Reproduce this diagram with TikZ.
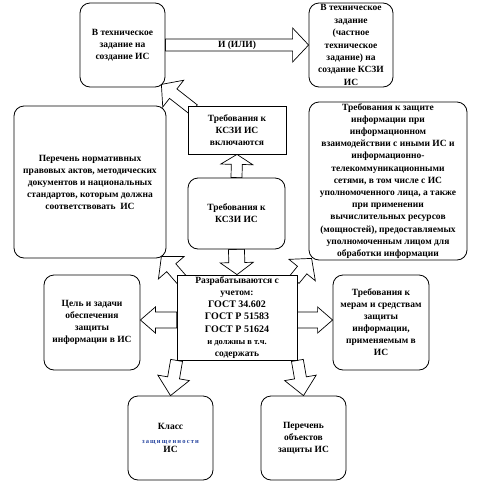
\documentclass[tikz,border=0pt]{standalone}
\usepackage{fontspec}
\setmainfont{Liberation Serif}
\usetikzlibrary{calc,positioning}
\pgfdeclarelayer{back}
\pgfsetlayers{back,main}
\newcommand{\blockarrow}[5]{%
  \coordinate (ah) at ($(#2)!#5!(#1)$);
  \path[barrow] ($(#1)!#3!90:(#2)$) -- ($(ah)!#3!90:(#2)$) -- ($(ah)!#4!90:(#2)$) -- (#2)
    -- ($(ah)!#4!-90:(#2)$) -- ($(ah)!#3!-90:(#2)$) -- ($(#1)!#3!-90:(#2)$) -- cycle;}
\definecolor{klblue}{RGB}{40,70,160}

\begin{document}
\begin{tikzpicture}[x=1pt,y=-1pt,line width=0.8pt]
\tikzstyle{rbox}=[draw=black,rounded corners=10pt,fill=white,align=center,inner sep=1pt,font=\bfseries\fontsize{9.5}{12}\selectfont]
\tikzstyle{sbox}=[rbox,sharp corners]
\tikzstyle{barrow}=[draw=black,fill=white,line width=0.7pt,line join=miter]
\useasboundingbox (0,0) rectangle (482,493);
\node[rbox,minimum width=85,minimum height=84] (ts) at (122.5,45) {В техническое\\задание на\\создание ИС};
\node[rbox,minimum width=84,minimum height=84,font=\bfseries\fontsize{9.5}{12.4}\selectfont] (tz) at (351,45) {В техническое\\задание\\(частное\\техническое\\задание) на\\создание КСЗИ\\ИС};
\node[rbox,minimum width=152,minimum height=152] (npa) at (90,182) {Перечень нормативных\\правовых актов, методических\\документов и национальных\\стандартов, которым должна\\соответствовать\ \ ИС};
\node[sbox,minimum width=98,minimum height=48] (vkl) at (237,130) {Требования к\\КСЗИ ИС\\включаются};
\node[rbox,minimum width=97,minimum height=71] (tksz) at (236.5,213.5) {Требования к\\КСЗИ ИС};
\node[rbox,minimum width=158,minimum height=158,inner sep=0.5pt,font=\bfseries\fontsize{9.5}{12.2}\selectfont] (vz) at (388,181) {Требования к защите\\информации при\\информационном\\взаимодействии с иными ИС и\\информационно-\\телекоммуникационными\\сетями, в том числе с ИС\\уполномоченного лица, а также\\при применении\\вычислительных ресурсов\\(мощностей), предоставляемых\\уполномоченным лицом для\\обработки информации};
\node[sbox,minimum width=120,minimum height=85,font=\bfseries\fontsize{9.5}{12.2}\selectfont] (raz) at (237,317.5) {Разрабатываются с\\учетом:\\{\fontsize{10}{12}\selectfont ГОСТ 34.602}\\{\fontsize{10}{12}\selectfont ГОСТ Р 51583}\\{\fontsize{10}{12}\selectfont ГОСТ Р 51624}\\{\fontsize{8.5}{12}\selectfont и должны в т.ч.}\\содержать};
\node[rbox,minimum width=96,minimum height=95] (cel) at (92,322.5) {Цель и задачи\\обеспечения\\защиты\\информации в ИС};
\node[rbox,minimum width=96,minimum height=95] (mer) at (381,322.5) {Требования к\\мерам и средствам\\защиты\\информации,\\применяемым в\\ИС};
\node[rbox,minimum width=85,minimum height=84] (kl) at (170.5,438) {Класс\\[2pt]{\fontsize{6.5}{7}\selectfont\addfontfeature{LetterSpace=18}\color{klblue}защищенности}\\[-3pt]ИС};
\node[rbox,minimum width=85,minimum height=84] (obj) at (303.5,438) {Перечень\\объектов\\защиты ИС};
\node[font=\bfseries\fontsize{9.5}{12}\selectfont,inner sep=1pt] (ili) at ($(ts.east)!0.5!(tz.west)$) {И (ИЛИ)};
\coordinate (razw) at ($(raz.west)+(0,2.5)$);
\coordinate (raze) at ($(raz.east)+(0,2.5)$);
\coordinate (celin) at (cel.east |- razw);
\coordinate (merin) at (mer.west |- raze);
\coordinate (tstip) at ($(ts.south east)+(-4,-3)$);
\coordinate (vkltail) at ($(vkl.north west)+(6,4)$);
\coordinate (npatip) at ($(npa.south east)+(-5,-2)$);
\coordinate (raztl) at ($(raz.north west)+(5,5)$);
\coordinate (vztip) at ($(vz.south west)+(3,-2)$);
\coordinate (raztr) at ($(raz.north east)+(-3,5)$);
\begin{pgfonlayer}{back}
\blockarrow{ts.east}{tz.west}{6pt}{17pt}{16pt}
\blockarrow{tksz.north}{vkl.south}{5.5pt}{16pt}{10pt}
\blockarrow{tksz.south}{raz.north}{8pt}{16.5pt}{12pt}
\blockarrow{razw}{celin}{8pt}{13pt}{15pt}
\blockarrow{raze}{merin}{8pt}{13pt}{15pt}
\blockarrow{raz.south west}{kl.north}{6pt}{16pt}{18pt}
\blockarrow{raz.south east}{obj.north}{6pt}{16pt}{18pt}
\blockarrow{vkltail}{tstip}{6pt}{17pt}{15pt}
\blockarrow{raztl}{npatip}{6pt}{17pt}{15pt}
\blockarrow{raztr}{vztip}{6pt}{17pt}{15pt}
\end{pgfonlayer}
\end{tikzpicture}
\end{document}
